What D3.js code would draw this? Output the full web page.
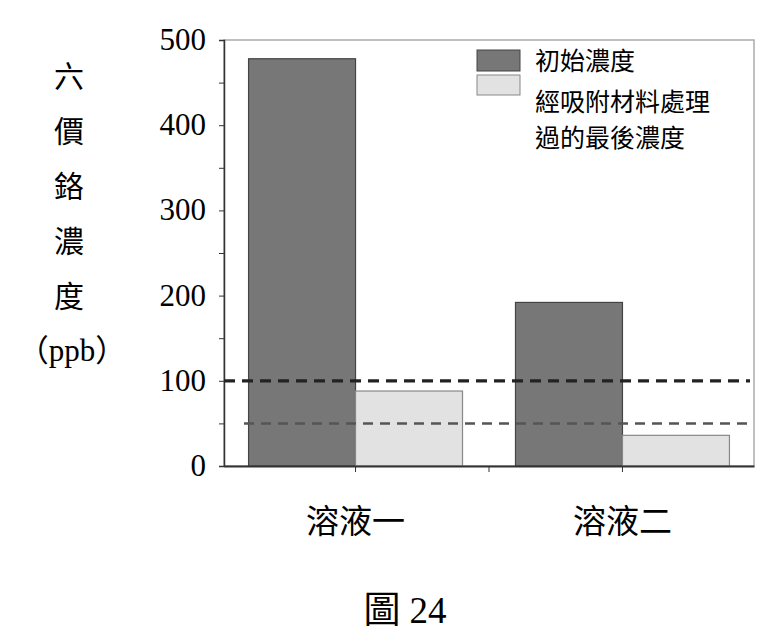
<!DOCTYPE html>
<html><head><meta charset="utf-8">
<script src="https://cdn.jsdelivr.net/npm/d3@7"></script>
<style>body{margin:0;background:#fff}</style></head>
<body><svg id="c" width="783" height="643"></svg>
<script>
const categories = ["溶液一", "溶液二"];
const seriesNames = ["初始濃度", "經吸附材料處理過的最後濃度"];
const initialValues = [478, 192];
const finalValues = [88, 36];
const yTicks = [0, 100, 200, 300, 400, 500];
const refLines = [100, 50];

const svg = d3.select("#c");
const L = 224, R = 754, T = 40, B = 466;
const serif = "'Liberation Serif','Noto Sans CJK TC',serif";
const cjk = "'Noto Sans CJK TC',sans-serif";
const y = d3.scaleLinear().domain([0, 500]).range([B, T]);
const x = d3.scaleBand().domain(categories).range([L, R]).paddingInner(0.1985).paddingOuter(0.092);
const xs = d3.scaleBand().domain(["a","b"]).range([0, x.bandwidth()]);

svg.append("rect").attr("x", L).attr("y", T).attr("width", R-L).attr("height", B-T)
  .attr("fill","none").attr("stroke","#aaa").attr("stroke-width",1.5);

const cols = ["#777777", "#e2e2e2"];
const strokes = ["#444", "#888"];
categories.forEach((c,i)=>{
  [initialValues[i], finalValues[i]].forEach((v,j)=>{
    svg.append("rect").attr("x", x(c)+xs(j?"b":"a")).attr("y", y(v))
      .attr("width", xs.bandwidth()).attr("height", B-y(v))
      .attr("fill", cols[j]).attr("stroke", strokes[j]).attr("stroke-width",1.2);
  });
});

const ya = svg.append("g").attr("transform",`translate(${L},0)`)
  .call(d3.axisLeft(y).tickValues(d3.range(0,501,50)).tickSize(5).tickFormat(""));
ya.select(".domain").attr("stroke","#333").attr("stroke-width",1.5);
ya.selectAll("line").attr("stroke","#333");
svg.selectAll(".ylab").data(yTicks).enter().append("text")
  .attr("x", 206).attr("y", d=>y(d)+10).attr("text-anchor","end")
  .attr("font-family", serif).attr("font-size", 31).text(d=>d);

const xa = svg.append("g").attr("transform",`translate(0,${B})`)
  .call(d3.axisBottom(x).tickSize(0).tickFormat(""));
xa.select(".domain").attr("stroke","#333").attr("stroke-width",1.8);
[x("溶液一")+x.bandwidth()/2, (x("溶液一")+x.bandwidth()+x("溶液二"))/2, x("溶液二")+x.bandwidth()/2]
  .forEach(px=>svg.append("line").attr("x1",px).attr("x2",px).attr("y1",B).attr("y2",B+6).attr("stroke","#333"));
svg.selectAll(".xlab").data(categories).enter().append("text")
  .attr("x", d=>x(d)+x.bandwidth()/2).attr("y", 533).attr("text-anchor","middle")
  .attr("font-family", cjk).attr("font-size", 33).text(d=>d);

refLines.forEach((v,i)=>{
  svg.append("line").attr("x1", i?244:L).attr("x2", 750).attr("y1", y(v)).attr("y2", y(v))
    .attr("stroke", i?"#555":"#222").attr("stroke-width", i?2.5:3.2).attr("stroke-dasharray", i?"10,7":"11,7");
});

svg.append("rect").attr("x",477).attr("y",50).attr("width",43).attr("height",21).attr("fill",cols[0]).attr("stroke",strokes[0]);
svg.append("rect").attr("x",477).attr("y",75).attr("width",43).attr("height",20).attr("fill",cols[1]).attr("stroke",strokes[1]);
svg.append("text").attr("x",535).attr("y",70).attr("font-family",cjk).attr("font-size",25).text(seriesNames[0]);
svg.append("text").attr("x",535).attr("y",111).attr("font-family",cjk).attr("font-size",25).text("經吸附材料處理");
svg.append("text").attr("x",535).attr("y",147).attr("font-family",cjk).attr("font-size",25).text("過的最後濃度");

["六","價","鉻","濃","度"].forEach((ch,i)=>svg.append("text").attr("x",69).attr("y",87+i*55)
  .attr("text-anchor","middle").attr("font-family",cjk).attr("font-size",30).text(ch));
svg.append("text").attr("x",72).attr("y",361).attr("text-anchor","middle")
  .attr("font-family",serif).attr("font-size",31).text("（ppb）");

svg.append("text").attr("x",405).attr("y",623).attr("text-anchor","middle")
  .attr("font-family",serif).attr("font-size",37).text("圖 24");
</script></body></html>
